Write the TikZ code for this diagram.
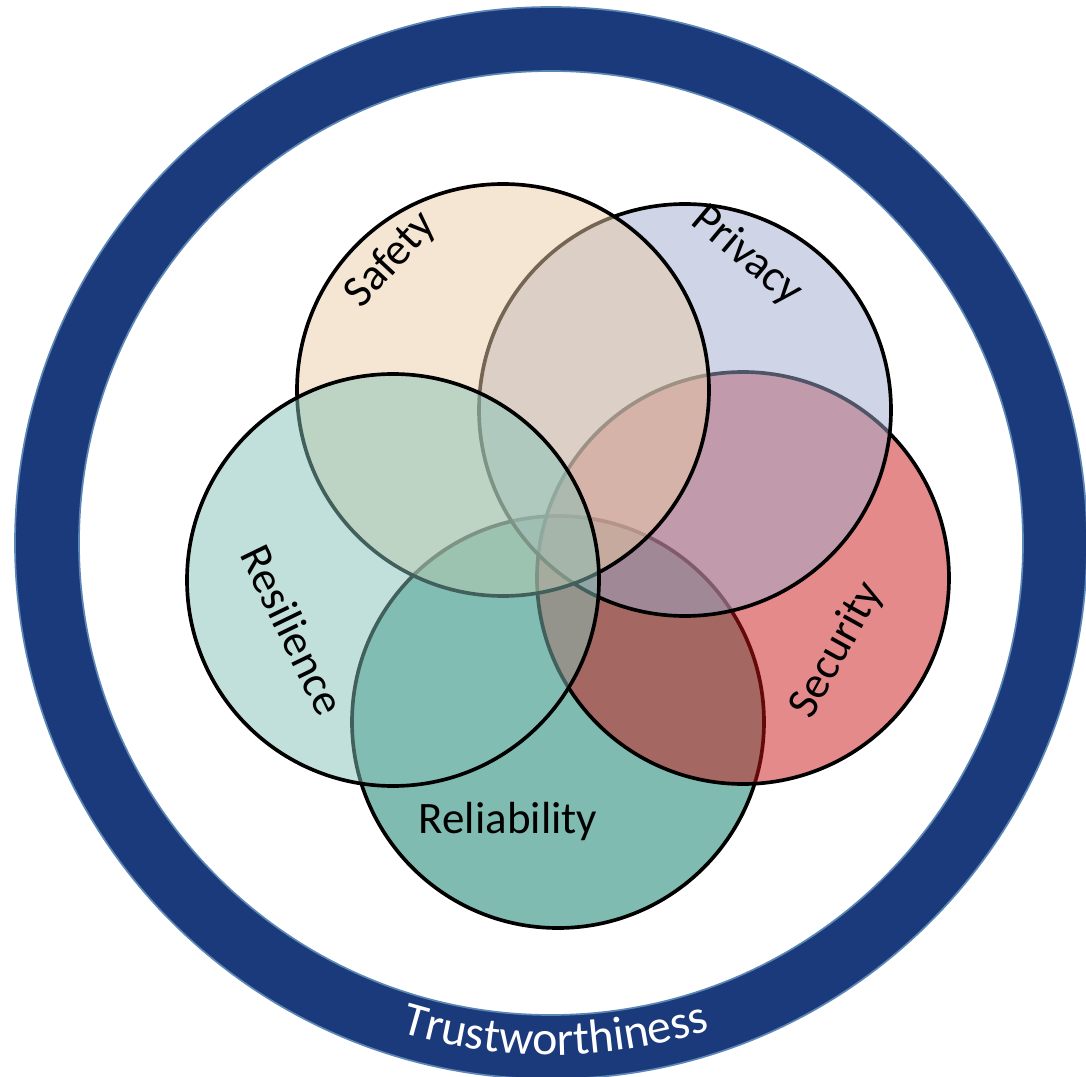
\documentclass[tikz,border=0pt]{standalone}
\usepackage{fontspec}
\setmainfont{Carlito}
\usetikzlibrary{decorations.text}

\definecolor{ringblue}{HTML}{1B3A7C}
\definecolor{ringedge}{HTML}{5C86B4}
\definecolor{safetycol}{RGB}{235,205,167}
\definecolor{privacycol}{RGB}{159,171,205}
\definecolor{securitycol}{RGB}{201,21,21}
\definecolor{resiliencecol}{RGB}{133,193,183}
\definecolor{reliabilitycol}{RGB}{0,119,97}

\newcommand{\trustfont}{\fontsize{34}{40}\selectfont}

\begin{document}
\begin{tikzpicture}[x=0.25mm, y=-0.25mm]
	\tikzstyle{venn} = [draw=black, line width=2.6pt, fill opacity=0.5]
	\tikzstyle{ring_edge} = [draw=ringedge, line width=1.2pt]
	\tikzstyle{venn_label} = [font=\fontsize{32}{38}\selectfont, inner sep=0pt]

	\clip (0,0) rectangle (1086,1077);

	% Trustworthiness ring
	\coordinate (C) at (551,543);
	\fill[ringblue, even odd rule] (C) circle [radius=536] (C) circle [radius=472];
	\draw[ring_edge] (C) circle [radius=536];
	\draw[ring_edge] (C) circle [radius=472];
	\path[decorate, decoration={text along path, text align=center, text color=white,
		text={|\trustfont|Trustworthiness}}]
		(C) ++(128:512) arc [start angle=128, end angle=51, radius=512];

	% The five circles, bottom one first
	\foreach \cx/\cy/\col in {558/722/reliabilitycol, 743/578/securitycol,
		685/410/privacycol, 503/390/safetycol, 393/580/resiliencecol}
		\draw[venn, fill=\col] (\cx,\cy) circle [radius=206];

	% Labels
	\node[venn_label, rotate=47] (safety) at (391,260) {Safety};
	\node[venn_label, rotate=-40] (privacy) at (747,256) {Privacy};
	\node[venn_label, rotate=61] (security) at (837,650) {Security};
	\node[venn_label, rotate=-64] (resilience) at (293,630) {Resilience};
	\node[venn_label, anchor=base] (reliability) at (508,833) {Reliability};
\end{tikzpicture}
\end{document}
